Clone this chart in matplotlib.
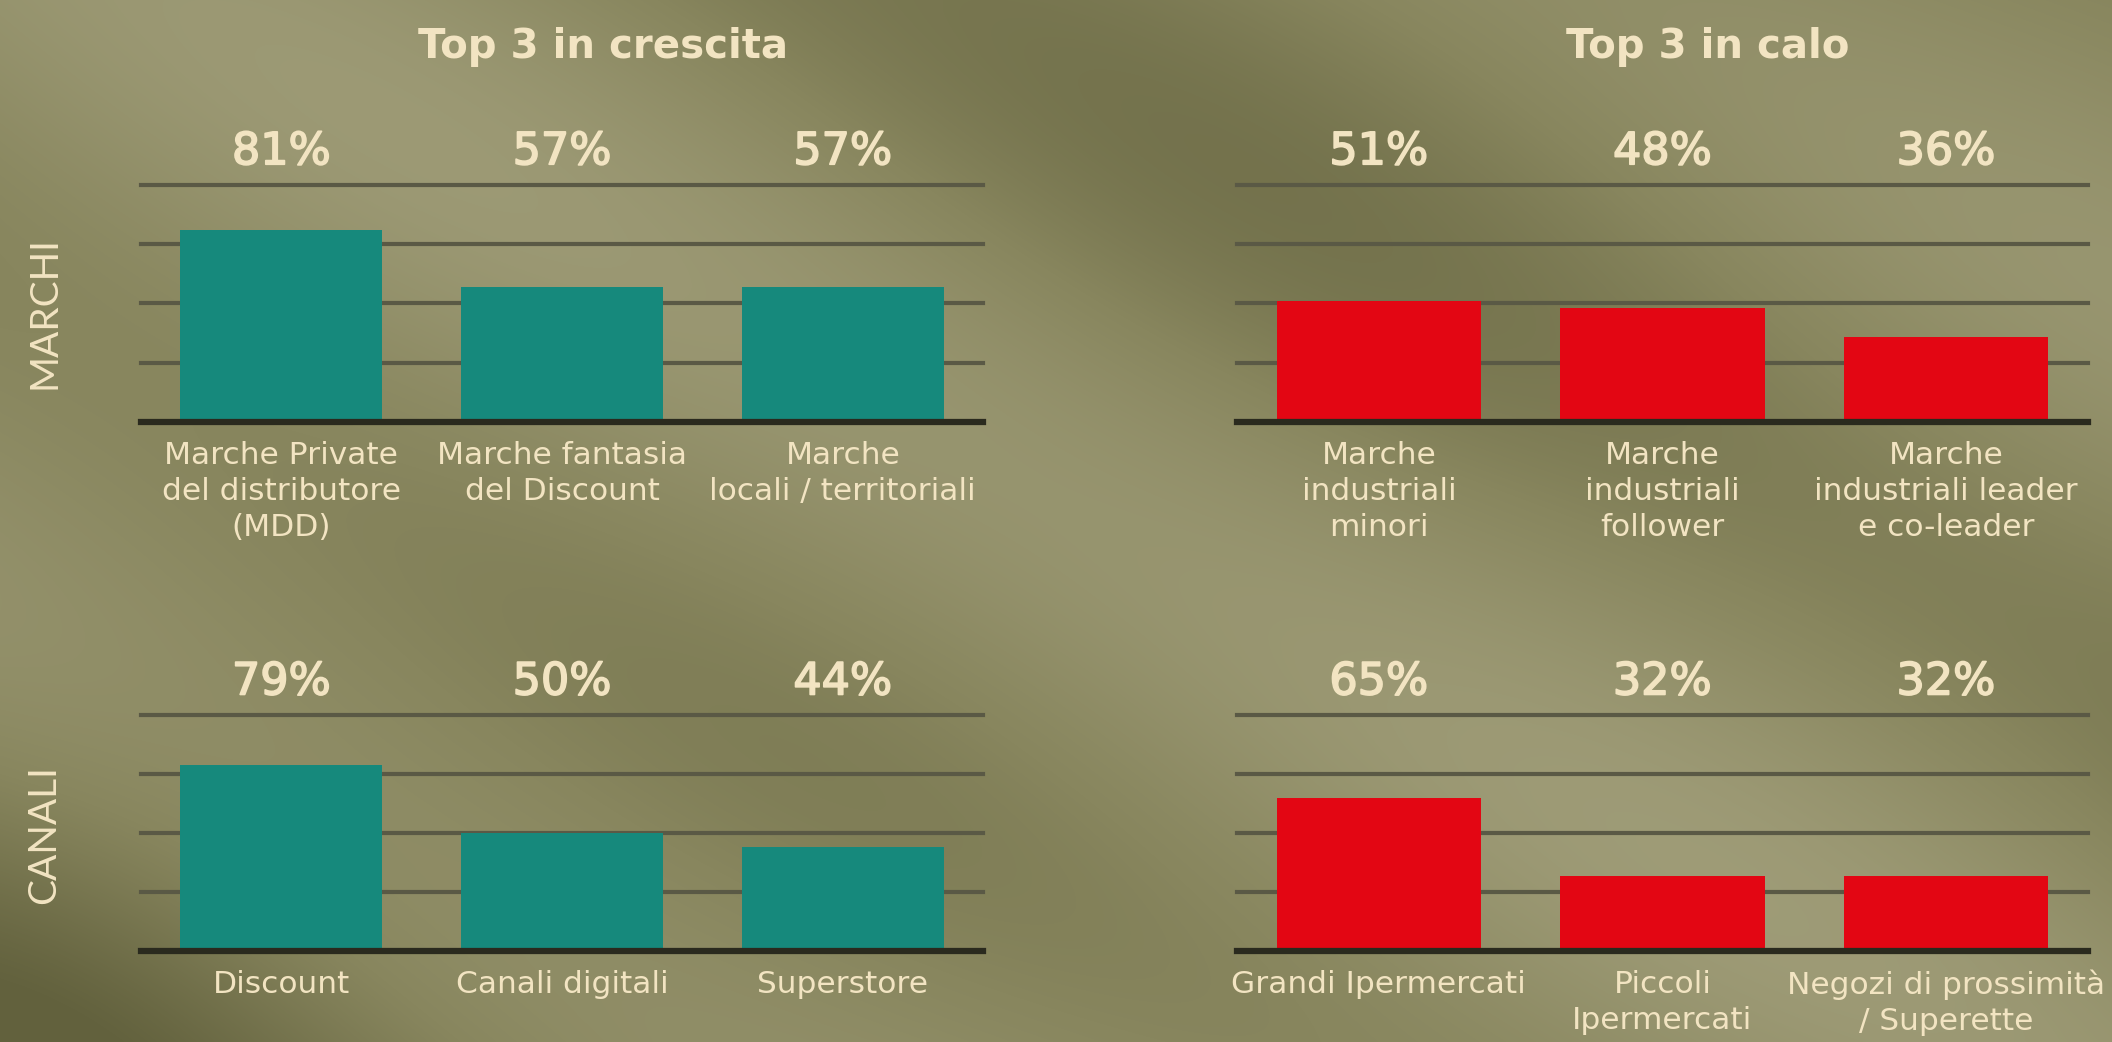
import matplotlib.pyplot as plt
import matplotlib.patheffects as pe
import numpy as np
from matplotlib.colors import LinearSegmentedColormap

# dati del grafico
marchi_su = ["Marche Private\ndel distributore\n(MDD)", "Marche fantasia\ndel Discount", "Marche\nlocali / territoriali"]
marchi_su_val = [81, 57, 57]
marchi_giu = ["Marche\nindustriali\nminori", "Marche\nindustriali\nfollower", "Marche\nindustriali leader\ne co-leader"]
marchi_giu_val = [51, 48, 36]
canali_su = ["Discount", "Canali digitali", "Superstore"]
canali_su_val = [79, 50, 44]
canali_giu = ["Grandi Ipermercati", "Piccoli\nIpermercati", "Negozi di prossimità\n/ Superette"]
canali_giu_val = [65, 32, 32]

titoli = ["Top 3 in crescita", "Top 3 in calo"]
righe = ["MARCHI", "CANALI"]

TEAL = "#16897c"
RED = "#e30613"
CREAM = "#f2e4c2"
FONT = "DejaVu Sans"

fig = plt.figure(figsize=(21.12, 10.42), dpi=100)

# sfondo con ombre diagonali
bg = fig.add_axes([0, 0, 1, 1], zorder=-10)
yy, xx = np.mgrid[0:1042, 0:2112] / 1000.0
d = xx * 0.5 - yy * 0.87
shade = (0.55 + 0.2 * np.sin(d * 9.0 + 0.6) + 0.12 * np.sin(d * 4.1 + 2.0)
         + 0.06 * np.sin((xx + yy) * 3.0))
shade -= 0.3 * np.exp(-((xx - 0.0) ** 2 + (yy - 1.05) ** 2) / 0.12)
shade += 0.12 * np.exp(-((xx - 1.9) ** 2 + (yy - 0.3) ** 2) / 0.3)
cmap = LinearSegmentedColormap.from_list("bg", ["#62613d", "#88865e", "#a29f7b"])
bg.imshow(shade, cmap=cmap, aspect="auto", extent=[0, 1, 0, 1], vmin=0.0, vmax=1.0)
bg.axis("off")

panels = [
    ([0.0668, 0.595, 0.3987, 0.2275], marchi_su, marchi_su_val, TEAL),
    ([0.5857, 0.595, 0.4029, 0.2275], marchi_giu, marchi_giu_val, RED),
    ([0.0668, 0.0873, 0.3987, 0.2265], canali_su, canali_su_val, TEAL),
    ([0.5857, 0.0873, 0.4029, 0.2265], canali_giu, canali_giu_val, RED),
]

bold_fx = [pe.withStroke(linewidth=1.2, foreground=CREAM)]

for rect, labels, vals, col in panels:
    ax = fig.add_axes(rect)
    ax.patch.set_alpha(0)
    x = np.arange(len(vals))
    for g in [25, 50, 75, 100]:
        ax.axhline(g, color="#5a5945", lw=3, zorder=1, clip_on=False)
    ax.axhline(0, color="#2a2a1e", lw=4.5, zorder=3, clip_on=False)
    ax.bar(x, vals, width=0.72, color=col, zorder=2)
    for i, (lab, v) in enumerate(zip(labels, vals)):
        ax.text(i, 114, f"{v}%", ha="center", va="center", color=CREAM,
                fontsize=32, fontfamily=FONT, clip_on=False, path_effects=bold_fx)
        ax.text(i, -8, lab, ha="center", va="top", color=CREAM, fontsize=22.5,
                fontfamily=FONT, linespacing=1.3, clip_on=False)
    ax.set_xlim(-0.5, 2.5)
    ax.set_ylim(0, 100)
    ax.axis("off")

fig.text(0.2855, 0.955, titoli[0], ha="center", va="center", color=CREAM,
         fontsize=29, fontweight="bold", fontfamily=FONT)
fig.text(0.8087, 0.955, titoli[1], ha="center", va="center", color=CREAM,
         fontsize=29, fontweight="bold", fontfamily=FONT)

fig.text(0.021, 0.70, righe[0], ha="center", va="center", rotation=90,
         color=CREAM, fontsize=28, fontfamily="Lato")
fig.text(0.021, 0.199, righe[1], ha="center", va="center", rotation=90,
         color=CREAM, fontsize=28, fontfamily="Lato")

fig.savefig("out.png", dpi=100)
